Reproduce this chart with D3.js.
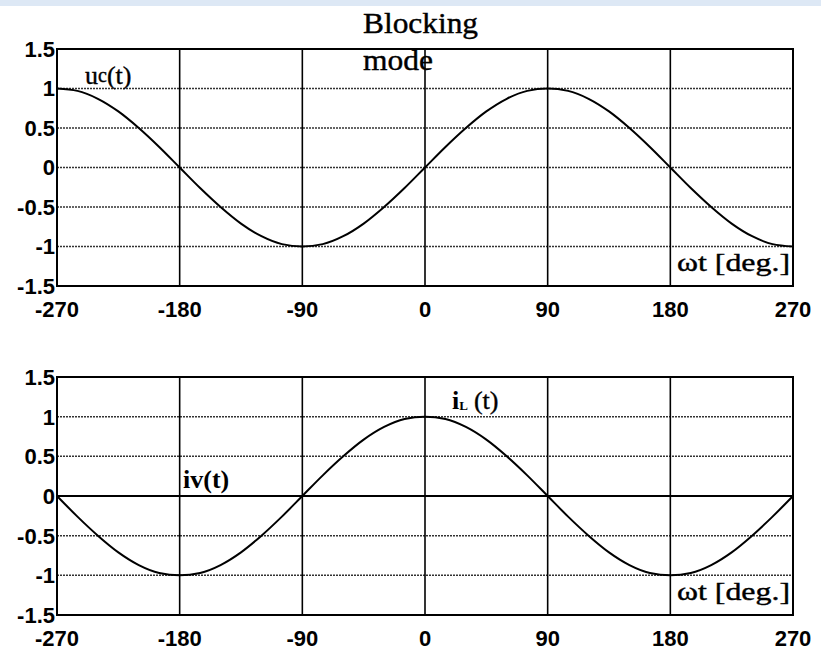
<!DOCTYPE html>
<html>
<head>
<meta charset="utf-8">
<script src="https://cdn.jsdelivr.net/npm/d3@7"></script>
<style>
  body { margin: 0; background: #fff; }
  svg { display: block; }
</style>
</head>
<body>
<svg id="chart" width="821" height="651"></svg>
<script>
// angle samples, degrees
var angles = [-270,-255,-240,-225,-210,-195,-180,-165,-150,-135,-120,-105,-90,-75,-60,-45,-30,-15,
              0,15,30,45,60,75,90,105,120,135,150,165,180,195,210,225,240,255,270];
// uc(t), upper panel
var ucVals = [1,0.97,0.87,0.71,0.5,0.26,0,-0.26,-0.5,-0.71,-0.87,-0.97,-1,-0.97,-0.87,-0.71,-0.5,-0.26,
              0,0.26,0.5,0.71,0.87,0.97,1,0.97,0.87,0.71,0.5,0.26,0,-0.26,-0.5,-0.71,-0.87,-0.97,-1];
// iL(t), lower panel
var iLVals = [0,-0.26,-0.5,-0.71,-0.87,-0.97,-1,-0.97,-0.87,-0.71,-0.5,-0.26,0,0.26,0.5,0.71,0.87,0.97,
              1,0.97,0.87,0.71,0.5,0.26,0,-0.26,-0.5,-0.71,-0.87,-0.97,-1,-0.97,-0.87,-0.71,-0.5,-0.26,0];
var xTicks = [-270,-180,-90,0,90,180,270];
var yTicks = [-1.5,-1,-0.5,0,0.5,1,1.5];

var svg = d3.select('#chart');
svg.append('rect').attr('x',0).attr('y',0).attr('width',821).attr('height',6).attr('fill','#dde8f5');

var sans = "'Liberation Sans', Arial, sans-serif";
var serif = "'Liberation Serif', 'Times New Roman', serif";

function panel(top, bottom, vals, solidZero){
  var x = d3.scaleLinear().domain([-270,270]).range([57,793]);
  var y = d3.scaleLinear().domain([-1.5,1.5]).range([bottom,top]);
  var g = svg.append('g');

  // dotted horizontal grid
  g.selectAll('line.hg').data([-1,-0.5,0,0.5,1]).enter().append('line')
    .attr('x1',x(-270)).attr('x2',x(270))
    .attr('y1',function(d){return y(d);}).attr('y2',function(d){return y(d);})
    .attr('stroke', function(d){return (solidZero && d===0) ? '#000' : '#333';})
    .attr('stroke-width', function(d){return (solidZero && d===0) ? 2 : 1.5;})
    .attr('stroke-dasharray', function(d){return (solidZero && d===0) ? null : '2,1';});

  // solid vertical grid
  g.selectAll('line.vg').data([-180,-90,0,90,180]).enter().append('line')
    .attr('y1',y(1.5)).attr('y2',y(-1.5))
    .attr('x1',function(d){return x(d);}).attr('x2',function(d){return x(d);})
    .attr('stroke','#000').attr('stroke-width',1.6);

  g.append('rect').attr('x',x(-270)).attr('y',y(1.5))
    .attr('width',x(270)-x(-270)).attr('height',y(-1.5)-y(1.5))
    .attr('fill','none').attr('stroke','#000').attr('stroke-width',2);

  var line = d3.line()
    .x(function(d,i){return x(angles[i]);})
    .y(function(d){return y(d);})
    .curve(d3.curveMonotoneX);
  g.append('path').datum(vals).attr('d',line)
    .attr('fill','none').attr('stroke','#000').attr('stroke-width',2);

  g.selectAll('text.xt').data(xTicks).enter().append('text')
    .attr('x',function(d){return x(d);}).attr('y',bottom+31)
    .attr('text-anchor','middle').attr('font-family',sans).attr('font-weight','bold')
    .attr('font-size',22).text(function(d){return d;});

  g.selectAll('text.yt').data(yTicks).enter().append('text')
    .attr('x',55).attr('y',function(d){return y(d);}).attr('dy','0.36em')
    .attr('text-anchor','end').attr('font-family',sans).attr('font-weight','bold')
    .attr('font-size',22).text(function(d){return d;});

  g.append('text').attr('x',677).attr('y',bottom-15)
    .attr('font-family',serif).attr('font-size',25)
    .attr('stroke','#000').attr('stroke-width',0.4)
    .attr('textLength',113).attr('lengthAdjust','spacingAndGlyphs')
    .text('\u03c9t [deg.]');
  return g;
}

panel(49, 286, ucVals, false);
panel(377, 615, iLVals, true);

function serifText(x0, y0, size, str, len){
  return svg.append('text').attr('x',x0).attr('y',y0).attr('font-family',serif)
    .attr('font-size',size).attr('stroke','#000').attr('stroke-width',0.4)
    .attr('textLength',len).attr('lengthAdjust','spacingAndGlyphs').text(str);
}
serifText(363, 33, 30, 'Blocking', 115);
serifText(363, 70, 30, 'mode', 70);

var uc = svg.append('text').attr('x',85).attr('y',84).attr('font-family',serif).attr('font-size',26)
  .attr('stroke','#000').attr('stroke-width',0.4);
uc.append('tspan').text('u');
uc.append('tspan').attr('font-size',20).attr('dy',-2).text('c');
uc.append('tspan').attr('dy',2).text('(t)');

var il = svg.append('text').attr('x',452).attr('y',409).attr('font-family',serif).attr('font-size',26).attr('font-weight','bold');
il.append('tspan').text('i');
il.append('tspan').attr('font-size',13).attr('dy',1).text('L');
il.append('tspan').attr('dy',-1).attr('dx',6).attr('font-weight','normal')
  .attr('stroke','#000').attr('stroke-width',0.4).text('(t)');

var iv = svg.append('text').attr('x',183).attr('y',488).attr('font-family',serif).attr('font-size',26).attr('font-weight','bold');
iv.append('tspan').text('iv');
iv.append('tspan').text('(t)');
</script>
</body>
</html>
